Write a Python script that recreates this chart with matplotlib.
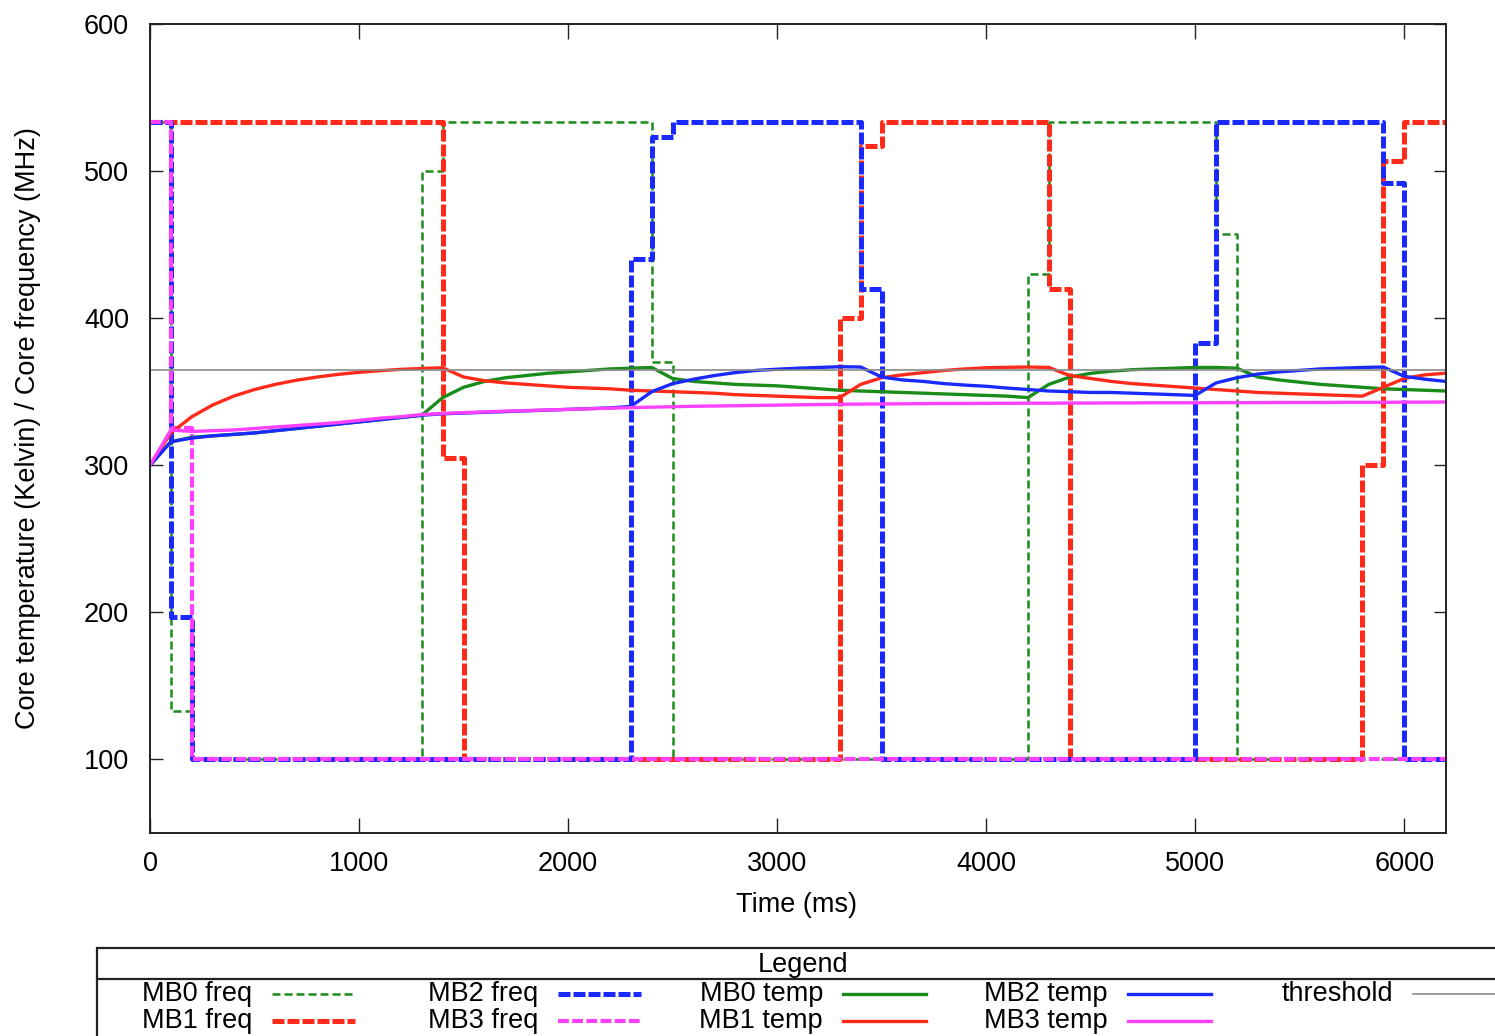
import matplotlib

matplotlib.use("Agg")
import matplotlib.pyplot as plt
from matplotlib.lines import Line2D
from matplotlib.patches import Rectangle

# ---- data -----------------------------------------------------------------
# core frequencies (MHz), step changes: time (ms) -> new value
mb0_freq_t = [0, 100, 200, 1300, 1400, 2400, 2500, 4200, 4300, 5100, 5200, 6200]
mb0_freq = [533.33, 133, 100, 500, 533.33, 370, 100, 430, 533.33, 457, 100, 100]

mb1_freq_t = [0, 1400, 1500, 3300, 3400, 3500, 4300, 4400, 5800, 5900, 6000, 6200]
mb1_freq = [533.33, 305, 100, 400, 517, 533.33, 420, 100, 300, 507, 533.33, 533.33]

mb2_freq_t = [0, 100, 200, 2300, 2400, 2500, 3400, 3500, 5000, 5100, 5900, 6000, 6200]
mb2_freq = [533.33, 197, 100, 440, 523, 533.33, 420, 100, 383, 533.33, 492, 100, 100]

mb3_freq_t = [0, 100, 200, 6200]
mb3_freq = [533.33, 325, 100, 100]

# core temperatures (Kelvin), sampled every 100 ms from 0 to 6200
temp_t = list(range(0, 6201, 100))

mb0_temp = [300, 316, 319, 320, 321, 322, 323.5, 325, 326.5, 328,
            329.5, 331, 332.5, 334, 346, 353, 357, 359.5, 361, 362.5,
            363.5, 364.5, 365.5, 366, 366.5, 359, 357, 356, 355, 354.5,
            354, 353, 352, 351, 350.5, 350, 349.5, 349, 348.5, 348,
            347.5, 347, 346, 355, 360, 362.5, 364, 365, 365.5, 366,
            366.5, 366.5, 366, 360, 358, 356.5, 355, 354, 353, 352,
            351.5, 351, 350.5]

mb1_temp = [300, 322, 333, 341, 347, 351.5, 355, 357.8, 360, 361.8,
            363.2, 364.3, 365.2, 365.8, 366.3, 360, 357.5, 356, 355, 354,
            353, 352.5, 352, 351, 350.5, 350, 349.5, 349, 348, 347.5,
            347, 346.5, 346, 346, 355, 359.5, 361.5, 363, 364.5, 365.5,
            366.3, 366.6, 366.8, 366.5, 361, 359, 357, 355.5, 354.5, 353.5,
            352.5, 351.5, 350.5, 349.5, 349, 348.5, 348, 347.5, 347, 353,
            359, 361.5, 362.6]

mb2_temp = [300, 316, 318.5, 320, 321, 322, 323.5, 325, 326.5, 328,
            329.5, 331, 332.5, 334, 335, 335.5, 336, 336.5, 337, 337.5,
            338, 338.5, 339, 340, 350, 355.5, 358.5, 361, 363, 364.5,
            365.3, 366, 366.5, 367, 366.8, 360, 358, 357, 355.5, 354.5,
            353.7, 352.5, 351.5, 350.5, 350, 349.5, 349.5, 349, 348.5, 348,
            347.5, 356, 359.5, 362, 363.5, 364.5, 365.5, 366, 366.5, 366.8,
            360.5, 358.5, 357]

mb3_temp = [300, 324, 323, 323.5, 324, 325, 326, 327, 328, 329,
            330.5, 332, 333, 334.5, 335.2, 335.8, 336.3, 336.8, 337.2, 337.6,
            338, 338.4, 338.8, 339.2, 339.5, 339.8, 340.1, 340.3, 340.5, 340.7,
            340.9, 341.1, 341.3, 341.5, 341.6, 341.7, 341.8, 341.9, 342, 342,
            342.1, 342.1, 342.2, 342.2, 342.3, 342.3, 342.4, 342.4, 342.5, 342.5,
            342.5, 342.6, 342.6, 342.6, 342.7, 342.7, 342.7, 342.8, 342.8, 342.8,
            342.9, 342.9, 343]

threshold = 365

x_ticks = [0, 1000, 2000, 3000, 4000, 5000, 6000]
y_ticks = [100, 200, 300, 400, 500, 600]

# ---- styles ----------------------------------------------------------------
GREEN = "#1a8c1a"
RED = "#ff2a1a"
BLUE = "#1a2aff"
MAGENTA = "#ff40ff"
GRAY = "#8a8a8a"
FS = 19.5

plt.rcParams.update({
    "font.family": ["Liberation Sans", "DejaVu Sans"],
    "font.size": FS,
})

W, H = 1495, 1036
fig = plt.figure(figsize=(W / 100, H / 100), dpi=100)
ax = fig.add_axes([150 / W, 1 - 833 / H, (1446 - 150) / W, (833 - 24) / H])

freq_styles = [
    ("MB0 freq", mb0_freq_t, mb0_freq, dict(color=GREEN, lw=1.8, dashes=(3.2, 1.6))),
    ("MB1 freq", mb1_freq_t, mb1_freq, dict(color=RED, lw=3.6, dashes=(2.4, 0.6))),
    ("MB2 freq", mb2_freq_t, mb2_freq, dict(color=BLUE, lw=3.6, dashes=(2.4, 0.6))),
    ("MB3 freq", mb3_freq_t, mb3_freq, dict(color=MAGENTA, lw=3.0, dashes=(2.6, 0.8))),
]
temp_styles = [
    ("MB0 temp", mb0_temp, dict(color=GREEN, lw=2.4)),
    ("MB1 temp", mb1_temp, dict(color=RED, lw=2.4)),
    ("MB2 temp", mb2_temp, dict(color=BLUE, lw=2.4)),
    ("MB3 temp", mb3_temp, dict(color=MAGENTA, lw=2.4)),
]

for name, t, f, st in freq_styles:
    ax.step(t, f, where="post", **st)
for name, temp, st in temp_styles:
    ax.plot(temp_t, temp, **st)
thr_style = dict(color=GRAY, lw=1.2)
ax.axhline(threshold, **thr_style)

ax.set_xlim(0, 6200)
ax.set_ylim(50, 600)
ax.set_xticks(x_ticks)
ax.set_yticks(y_ticks)
ax.tick_params(direction="in", width=1.0, top=True, right=True,
               labelsize=FS, color="#222222")
ax.tick_params(axis="y", pad=15, length=9)
ax.tick_params(axis="x", pad=13, length=11)
for s in ax.spines.values():
    s.set_linewidth(1.4)
    s.set_color("#222222")

fig.text(797 / W, 1 - 905 / H, "Time (ms)", ha="center", va="center", fontsize=FS)
fig.text(28 / W, 1 - 428 / H, "Core temperature (Kelvin) / Core frequency (MHz)",
         ha="center", va="center", rotation=90, fontsize=FS)

# ---- gnuplot-like legend box at the bottom (runs off the page) -------------
tf = fig.transFigure


def fx(x):
    return x / W


def fy(y):
    return 1 - y / H


fig.add_artist(Rectangle((fx(97), fy(1060)), fx(1520) - fx(97), fy(948) - fy(1060),
                         transform=tf, fill=False, lw=1.6, edgecolor="#222222"))
fig.add_artist(Line2D([fx(97), fx(1520)], [fy(979), fy(979)], transform=tf,
                      lw=1.6, color="#222222"))
fig.text(fx(803), fy(965), "Legend", ha="center", va="center", fontsize=FS)

entries = [
    (freq_styles[0][0], freq_styles[0][3]),
    (freq_styles[1][0], freq_styles[1][3]),
    (freq_styles[2][0], freq_styles[2][3]),
    (freq_styles[3][0], freq_styles[3][3]),
    (temp_styles[0][0], temp_styles[0][2]),
    (temp_styles[1][0], temp_styles[1][2]),
    (temp_styles[2][0], temp_styles[2][2]),
    (temp_styles[3][0], temp_styles[3][2]),
    ("threshold", thr_style),
]
col_right = [252, 538, 823, 1108, 1393]
row_y = [994, 1021]
for k, (label, st) in enumerate(entries):
    col, row = divmod(k, 2)
    xr = col_right[col]
    y = row_y[row]
    fig.text(fx(xr), fy(y), label, ha="right", va="center", fontsize=FS)
    fig.add_artist(Line2D([fx(xr + 20), fx(xr + 103)], [fy(y), fy(y)],
                          transform=tf, **st))

fig.savefig("out.png", dpi=100)
